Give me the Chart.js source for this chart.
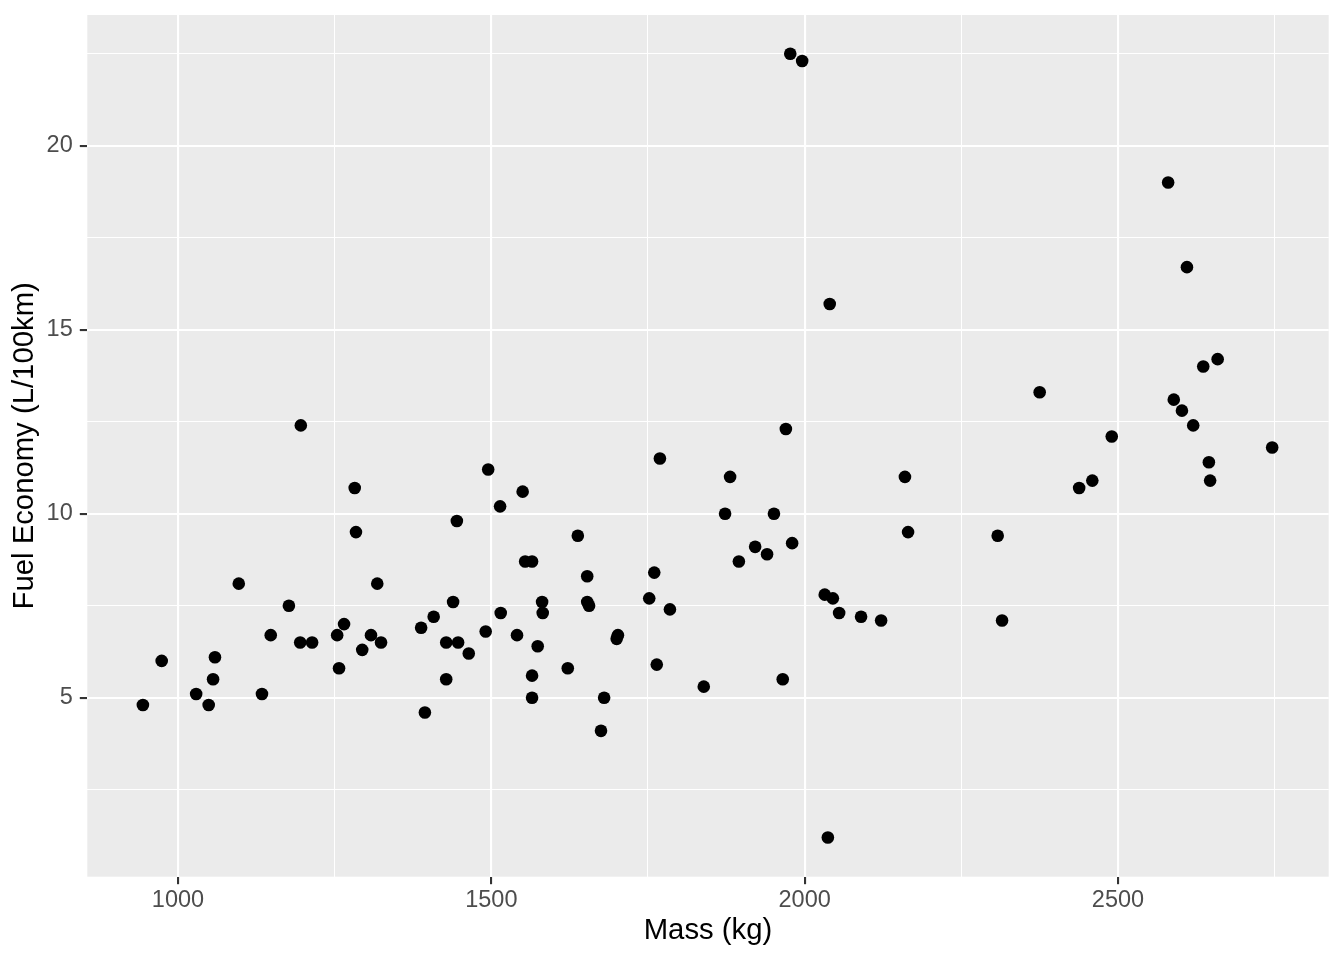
<!DOCTYPE html>
<html>
<head>
<meta charset="utf-8">
<script src="https://cdn.jsdelivr.net/npm/chart.js@4.4.1/dist/chart.umd.min.js"></script>
<style>
  html, body { margin: 0; padding: 0; background: #ffffff; }
  #wrap { width: 1344px; height: 960px; position: relative; }
</style>
</head>
<body>
<div id="wrap"><canvas id="c" width="1344" height="960"></canvas></div>
<script>
// Data
const mass = [
  944, 974, 1029, 1049, 1056, 1059, 1097, 1134, 1148, 1177,
  1195, 1214, 1196, 1254, 1257, 1265, 1282, 1284, 1294, 1308,
  1318, 1324, 1388, 1394, 1408, 1428, 1428, 1439, 1445, 1447,
  1464, 1491, 1495, 1514, 1515, 1541, 1550, 1554, 1565, 1565,
  1565, 1574, 1581, 1582, 1622, 1638, 1653, 1653, 1656, 1675,
  1680, 1700, 1702, 1752, 1760, 1764, 1769, 1785, 1839, 1873,
  1881, 1895, 1921, 1940, 1951, 1965, 1970, 1977, 1980, 1996,
  2032, 2037, 2040, 2045, 2055, 2090, 2122, 2160, 2165, 2308,
  2315, 2375, 2438, 2459, 2490, 2580, 2589, 2602, 2610, 2620,
  2636, 2645, 2647, 2659, 2746
];
const fuel = [
  4.8, 6.0, 5.1, 4.8, 5.5, 6.1, 8.1, 5.1, 6.7, 7.5,
  6.5, 6.5, 12.4, 6.7, 5.8, 7.0, 10.7, 9.5, 6.3, 6.7,
  8.1, 6.5, 6.9, 4.6, 7.2, 6.5, 5.5, 7.6, 9.8, 6.5,
  6.2, 6.8, 11.2, 10.2, 7.3, 6.7, 10.6, 8.7, 8.7, 5.6,
  5.0, 6.4, 7.6, 7.3, 5.8, 9.4, 8.3, 7.6, 7.5, 4.1,
  5.0, 6.6, 6.7, 7.7, 8.4, 5.9, 11.5, 7.4, 5.3, 10.0,
  11.0, 8.7, 9.1, 8.9, 10.0, 5.5, 12.3, 22.5, 9.2, 22.3,
  7.8, 1.2, 15.7, 7.7, 7.3, 7.2, 7.1, 11.0, 9.5, 9.4,
  7.1, 13.3, 10.7, 10.9, 12.1, 19.0, 13.1, 12.8, 16.7, 12.4,
  14.0, 11.4, 10.9, 14.2, 11.8
];
const xMajorTicks = [1000, 1500, 2000, 2500];
const xGridTicks = [1000, 1250, 1500, 1750, 2000, 2250, 2500, 2750];
const yMajorTicks = [5, 10, 15, 20];
const yGridTicks = [2.5, 5, 7.5, 10, 12.5, 15, 17.5, 20, 22.5];
const xRange = [855.3, 2836.2];
const yRange = [0.136, 23.552];
const xTitle = 'Mass (kg)';
const yTitle = 'Fuel Economy (L/100km)';

const points = mass.map((m, i) => ({ x: m, y: fuel[i] }));

const panelBg = {
  id: 'panelBg',
  beforeDraw(chart) {
    const { ctx, chartArea: a } = chart;
    ctx.save();
    ctx.fillStyle = '#EBEBEB';
    ctx.fillRect(a.left, a.top, a.right - a.left, a.bottom - a.top);
    ctx.restore();
  }
};

const FONT = "'Liberation Sans', Arial, sans-serif";

function gridOpts(majors) {
  return {
    color: '#FFFFFF',
    lineWidth: c => (c.tick && majors.includes(c.tick.value)) ? 2.1 : 1.05,
    drawTicks: true,
    tickLength: 7.5,
    tickWidth: 2.1,
    tickColor: c => (c.tick && majors.includes(c.tick.value)) ? '#333333' : 'rgba(0,0,0,0)'
  };
}

function zeroPad(s) {
  s.paddingTop = 0; s.paddingBottom = 0; s.paddingLeft = 0; s.paddingRight = 0;
}

new Chart(document.getElementById('c'), {
  type: 'scatter',
  data: {
    datasets: [{
      data: points,
      backgroundColor: '#000000',
      borderWidth: 0,
      pointRadius: 6.3,
      pointHoverRadius: 6.3
    }]
  },
  plugins: [panelBg],
  options: {
    responsive: false,
    animation: false,
    events: [],
    layout: { padding: { top: 15, right: 15.3, left: 0, bottom: 0 } },
    plugins: { legend: { display: false }, tooltip: { enabled: false } },
    scales: {
      x: {
        type: 'linear',
        min: xRange[0],
        max: xRange[1],
        afterBuildTicks: s => { s.ticks = xGridTicks.map(v => ({ value: v })); },
        afterFit: s => { s.height = 83.3; zeroPad(s); },
        border: { display: false },
        grid: gridOpts(xMajorTicks),
        ticks: {
          autoSkip: false,
          maxRotation: 0,
          padding: 4.75,
          color: '#4D4D4D',
          font: { family: FONT, size: 23.5, lineHeight: 1 },
          callback: v => xMajorTicks.includes(v) ? String(v) : ''
        },
        title: {
          display: true,
          text: xTitle,
          color: '#000000',
          font: { family: FONT, size: 29.3, lineHeight: 1 },
          padding: { top: 0, bottom: 14.35 }
        }
      },
      y: {
        type: 'linear',
        min: yRange[0],
        max: yRange[1],
        afterBuildTicks: s => { s.ticks = yGridTicks.map(v => ({ value: v })); },
        afterFit: s => { s.width = 87.3; zeroPad(s); },
        border: { display: false },
        grid: gridOpts(yMajorTicks),
        ticks: {
          autoSkip: false,
          padding: 7.1,
          color: '#4D4D4D',
          font: { family: FONT, size: 23.5, lineHeight: 1 },
          callback: v => yMajorTicks.includes(v) ? String(v) : ''
        },
        title: {
          display: true,
          text: yTitle,
          color: '#000000',
          font: { family: FONT, size: 29.3, lineHeight: 1 },
          padding: { top: 10.5, bottom: 0 }
        }
      }
    }
  }
});
</script>
</body>
</html>
